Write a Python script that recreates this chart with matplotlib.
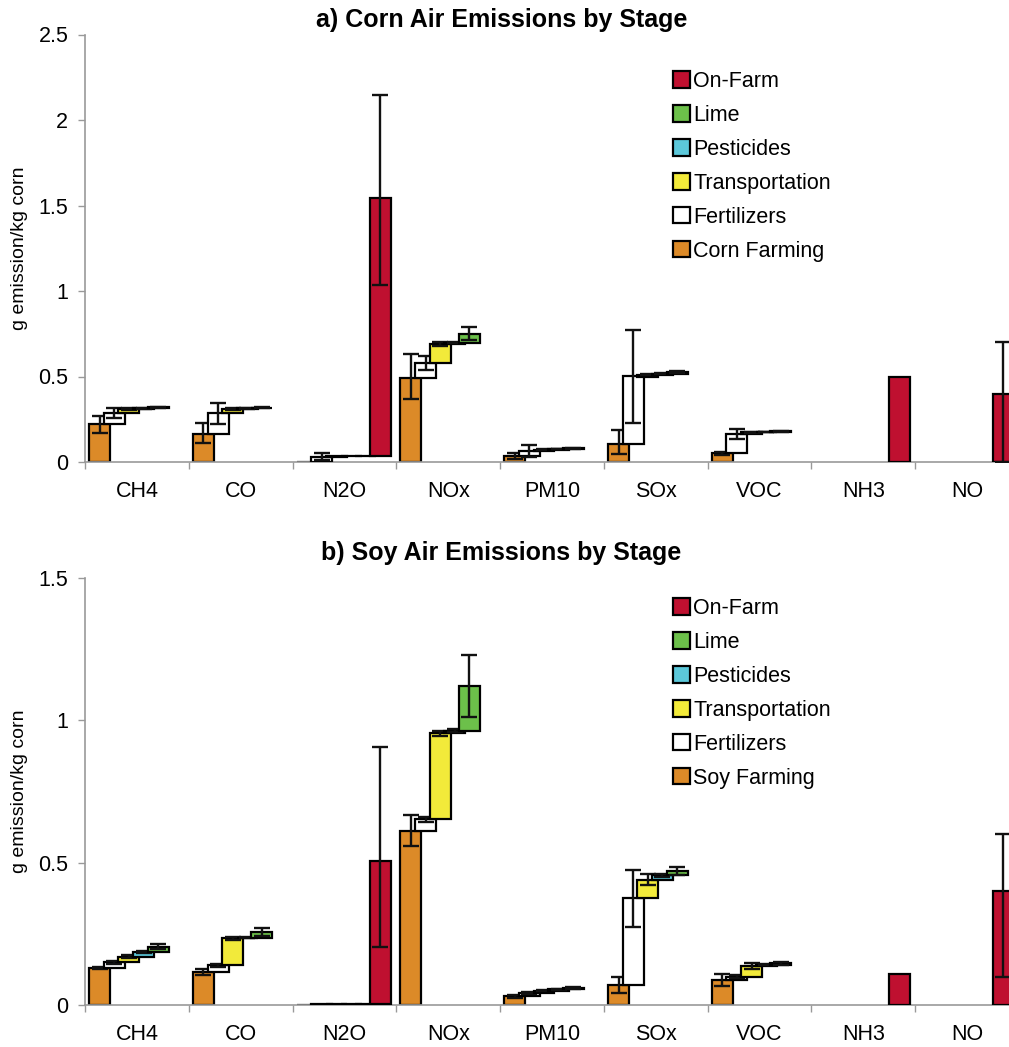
import numpy as np
import matplotlib
matplotlib.use('Agg')
import matplotlib.pyplot as plt
from matplotlib.patches import Patch

plt.rcParams['font.family'] = ['Liberation Sans', 'DejaVu Sans']

nan = np.nan
cats = ['CH4', 'CO', 'N2O', 'NOx', 'PM10', 'SOx', 'VOC', 'NH3', 'NO']

# corn, g/kg per stage (stacked in this order)
corn_farming = [0.22, 0.165, 0.0, 0.49, 0.035, 0.105, 0.05, nan, nan]
corn_fert = [0.065, 0.12, 0.03, 0.09, 0.03, 0.395, 0.115, nan, nan]
corn_trans = [0.025, 0.025, 0.003, 0.11, 0.008, 0.01, 0.008, nan, nan]
corn_pest = [0.005, 0.003, 0.001, 0.008, 0.003, 0.005, 0.003, nan, nan]
corn_lime = [0.005, 0.005, 0.001, 0.053, 0.005, 0.01, 0.004, nan, nan]
corn_onfarm = [nan, nan, 1.51, nan, nan, nan, nan, 0.5, 0.4]

# error bars: (lower, upper)
corn_farming_err = ([0.05, 0.055, 0, 0.12, 0.015, 0.06, 0.01, 0, 0],
                    [0.05, 0.065, 0, 0.14, 0.015, 0.08, 0.01, 0, 0])
corn_fert_err = [0.03, 0.06, 0.02, 0.04, 0.035, 0.27, 0.03, 0, 0]
corn_trans_err = [0.005, 0.005, 0, 0.01, 0.003, 0.003, 0.003, 0, 0]
corn_pest_err = [0.003, 0.003, 0, 0.005, 0.002, 0.003, 0.002, 0, 0]
corn_lime_err = [0.003, 0.003, 0, 0.04, 0.003, 0.005, 0.003, 0, 0]
corn_onfarm_err = ([0, 0, 0.51, 0, 0, 0, 0, 0, 0.4],
                   [0, 0, 0.6, 0, 0, 0, 0, 0, 0.3])

# soy
soy_farming = [0.13, 0.117, 0.0, 0.612, 0.03, 0.07, 0.088, nan, nan]
soy_fert = [0.02, 0.023, 0.002, 0.04, 0.012, 0.305, 0.012, nan, nan]
soy_trans = [0.02, 0.094, 0.001, 0.302, 0.008, 0.065, 0.038, nan, nan]
soy_pest = [0.017, 0.003, 0.001, 0.01, 0.005, 0.015, 0.003, nan, nan]
soy_lime = [0.018, 0.02, 0.001, 0.156, 0.005, 0.015, 0.006, nan, nan]
soy_onfarm = [nan, nan, 0.5, nan, nan, nan, nan, 0.11, 0.4]

soy_farming_err = [0.005, 0.01, 0, 0.055, 0.005, 0.027, 0.02, 0, 0]
soy_fert_err = [0.005, 0.005, 0, 0.01, 0.003, 0.1, 0.005, 0, 0]
soy_trans_err = [0.005, 0.005, 0, 0.01, 0.002, 0.02, 0.01, 0, 0]
soy_pest_err = [0.003, 0.003, 0, 0.005, 0.002, 0.005, 0.002, 0, 0]
soy_lime_err = [0.008, 0.015, 0, 0.11, 0.003, 0.015, 0.005, 0, 0]
soy_onfarm_err = ([0, 0, 0.3, 0, 0, 0, 0, 0, 0.3],
                  [0, 0, 0.4, 0, 0, 0, 0, 0, 0.2])

stage_names = ['Farming', 'Fertilizers', 'Transportation', 'Pesticides', 'Lime', 'On-Farm']
colors = ['#DC8A28', '#FFFFFF', '#F2EA3A', '#5CC8DA', '#6CC04A', '#BF1030']


def draw(ax, series, errs, ymax, step, farm_label):
    x0 = np.arange(len(cats))
    bottom = np.zeros(len(cats))
    for j, (vals, er) in enumerate(zip(series, errs)):
        vals = np.array(vals, dtype=float)
        if isinstance(er, tuple):
            lo, hi = np.array(er[0], dtype=float), np.array(er[1], dtype=float)
        else:
            lo = hi = np.array(er, dtype=float)
        ok = ~np.isnan(vals)
        left = x0 + 0.04 + j * 0.141
        ax.bar(left[ok], vals[ok], width=0.202, bottom=bottom[ok], align='edge',
               color=colors[j], edgecolor='black', linewidth=1.6, zorder=2 + j)
        top = bottom + np.nan_to_num(vals)
        e = ok & ((lo > 0) | (hi > 0))
        ax.errorbar(left[e] + 0.101, top[e], yerr=[lo[e], hi[e]], fmt='none', ecolor='#111111',
                    elinewidth=1.7, capsize=5.5, capthick=1.7, zorder=2 + j)
        bottom = top

    ax.set_xlim(0, len(cats))
    ax.set_ylim(0, ymax)
    ax.set_xticks(x0 + 0.5)
    ax.set_xticklabels(cats, fontsize=15.5)
    ax.set_xticks(np.arange(len(cats) + 1), minor=True)
    ax.tick_params(axis='x', which='major', length=0, pad=14)
    ax.tick_params(axis='x', which='minor', length=5, color='#999999', width=1)
    ticks = np.arange(0, ymax + 0.001, step)
    ax.set_yticks(ticks)
    ax.set_yticklabels(['%g' % t for t in ticks], fontsize=15.5)
    ax.tick_params(axis='y', length=5, color='#999999', width=1, pad=7)
    for s in ['top', 'right']:
        ax.spines[s].set_visible(False)
    for s in ['left', 'bottom']:
        ax.spines[s].set_color('#999999')
        ax.spines[s].set_linewidth(1.2)
    ax.set_ylabel('g emission/kg corn', fontsize=14)
    ax.yaxis.set_label_coords(-0.061, 0.5)

    labels = stage_names[:]
    labels[0] = farm_label
    handles = [Patch(facecolor=colors[j], edgecolor='black', linewidth=1.6, label=labels[j])
               for j in range(6)][::-1]
    return handles


fig = plt.figure(figsize=(10.09, 10.47), dpi=100)
W, H = 1009.0, 1047.0
ax1 = fig.add_axes([85 / W, (H - 462) / H, 934 / W, 427.5 / H])
ax2 = fig.add_axes([85 / W, (H - 1005) / H, 934 / W, 427 / H])

h1 = draw(ax1, [corn_farming, corn_fert, corn_trans, corn_pest, corn_lime, corn_onfarm],
          [corn_farming_err, corn_fert_err, corn_trans_err, corn_pest_err, corn_lime_err, corn_onfarm_err],
          2.5, 0.5, 'Corn Farming')
h2 = draw(ax2, [soy_farming, soy_fert, soy_trans, soy_pest, soy_lime, soy_onfarm],
          [soy_farming_err, soy_fert_err, soy_trans_err, soy_pest_err, soy_lime_err, soy_onfarm_err],
          1.5, 0.5, 'Soy Farming')

for h, ytop in [(h1, 71), (h2, 598)]:
    fig.legend(handles=h, loc='upper left', bbox_to_anchor=(673 / W, 1 - ytop / H),
               frameon=False, fontsize=15.5, handlelength=0.8, handleheight=0.8,
               handletextpad=0.15, labelspacing=0.6, borderpad=0, borderaxespad=0)

fig.text(0.497, 1 - 20 / H, 'a) Corn Air Emissions by Stage', ha='center', va='center',
         fontsize=18, fontweight='bold')
fig.text(0.497, 1 - 553 / H, 'b) Soy Air Emissions by Stage', ha='center', va='center',
         fontsize=18, fontweight='bold')

plt.savefig('out.png', dpi=100)
